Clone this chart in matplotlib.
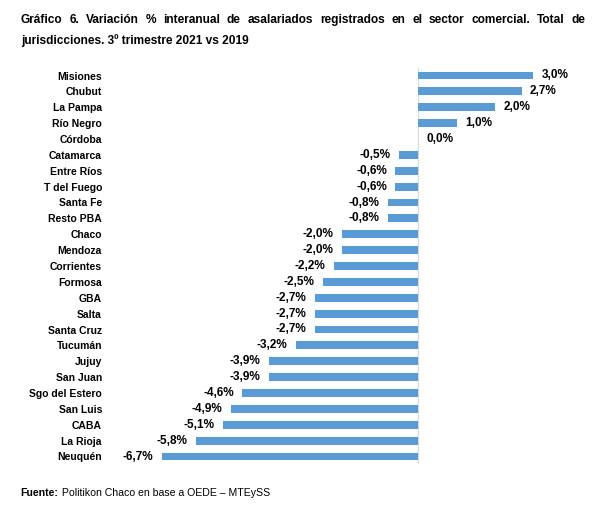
import matplotlib
matplotlib.use("Agg")
import matplotlib.pyplot as plt

plt.rcParams['font.family'] = ['Liberation Sans', 'DejaVu Sans']

# datos
provincias = ['Misiones', 'Chubut', 'La Pampa', 'Río Negro', 'Córdoba', 'Catamarca',
              'Entre Ríos', 'T del Fuego', 'Santa Fe', 'Resto PBA', 'Chaco', 'Mendoza',
              'Corrientes', 'Formosa', 'GBA', 'Salta', 'Santa Cruz', 'Tucumán', 'Jujuy',
              'San Juan', 'Sgo del Estero', 'San Luis', 'CABA', 'La Rioja', 'Neuquén']
variacion = [3.0, 2.7, 2.0, 1.0, 0.0, -0.5, -0.6, -0.6, -0.8, -0.8, -2.0, -2.0,
             -2.2, -2.5, -2.7, -2.7, -2.7, -3.2, -3.9, -3.9, -4.6, -4.9, -5.1, -5.8, -6.7]

titulo_1 = 'Gráfico 6. Variación % interanual de asalariados registrados en el sector comercial. Total de'
titulo_2 = 'jurisdicciones. 3º trimestre 2021 vs 2019'
fuente_b = 'Fuente:'
fuente_r = ' Politikon Chaco en base a OEDE – MTEySS'

W, H = 592, 528
fig = plt.figure(figsize=(W / 100, H / 100), dpi=100)

n = len(provincias)
# zona del grafico en pixeles
paso = (456.5 - 75.5) / (n - 1)
top_px, bot_px = 75.5 - paso / 2, 456.5 + paso / 2
left_px, right_px = 104.2, 560.0
ax = fig.add_axes([left_px / W, 1 - bot_px / H, (right_px - left_px) / W, (bot_px - top_px) / H])

y = list(range(n))
ax.barh(y, variacion, height=0.5, color='#5B9BD5', zorder=2)
ax.axvline(0, color='#D9D9D9', lw=0.8, zorder=1)
ax.set_xlim(-8.2, 3.7)
ax.set_ylim(n - 0.5, -0.5)

ax.set_yticks(y)
ax.set_yticklabels(provincias, fontsize=7.5, fontweight='bold')
ax.tick_params(axis='y', length=0, pad=1.6)
ax.set_xticks([])
for s in ax.spines.values():
    s.set_visible(False)

for yi, v in zip(y, variacion):
    txt = f'{v:.1f}%'.replace('.', ',')
    if v >= 0:
        ax.annotate(txt, (v, yi), xytext=(6, 0), textcoords='offset points',
                    ha='left', va='center', fontsize=8.5, fontweight='bold')
    else:
        ax.annotate(txt, (v, yi), xytext=(-6, 0), textcoords='offset points',
                    ha='right', va='center', fontsize=8.5, fontweight='bold')

# titulo justificado (primera linea)
renderer = fig.canvas.get_renderer()
palabras = titulo_1.split(' ')
x0, x1 = 20.7, 585.5
objs = []
total = 0
for p in palabras:
    t = fig.text(0, 1 - 22.8 / H, p, fontsize=8.6, fontweight='bold', va='baseline', ha='left')
    w = t.get_window_extent(renderer).width
    objs.append((t, w))
    total += w
gap = (x1 - x0 - total) / (len(palabras) - 1)
xx = x0
for t, w in objs:
    t.set_x(xx / W)
    xx += w + gap

fig.text(x0 / W, 1 - 44.3 / H, titulo_2, fontsize=8.6, fontweight='bold', va='baseline', ha='left')

# fuente
tb = fig.text(20.7 / W, 1 - 493 / H, fuente_b, fontsize=7.6, fontweight='bold', va='center', ha='left')
ax.annotate(fuente_r, xy=(1, 0.5), xycoords=tb, fontsize=7.6, va='center', ha='left',
            annotation_clip=False)

fig.savefig('out.png', dpi=100)
